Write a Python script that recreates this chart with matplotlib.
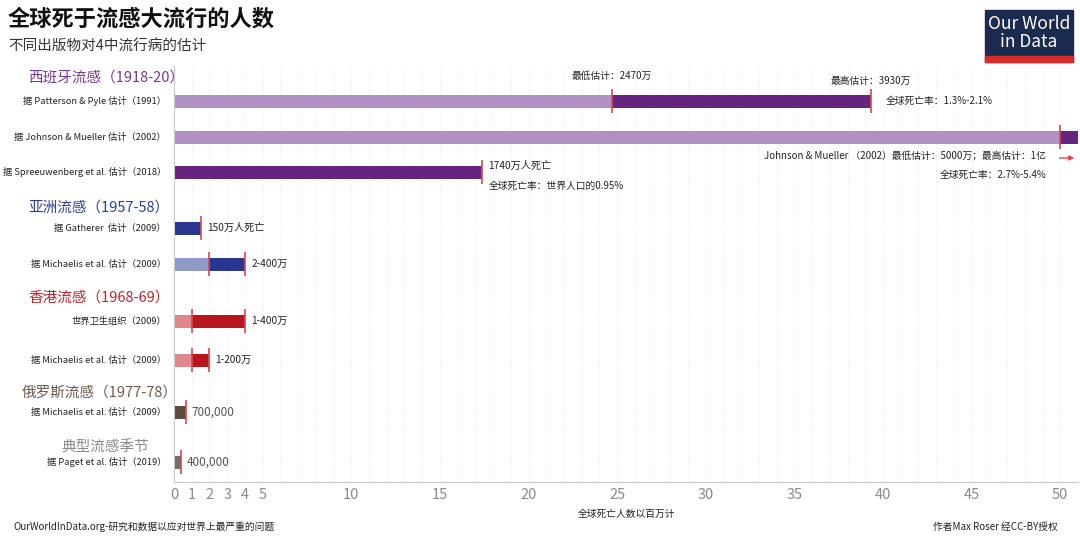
import numpy as np
import matplotlib
matplotlib.use("Agg")
import matplotlib.pyplot as plt
from matplotlib.patches import Rectangle

plt.rcParams["font.family"] = ["Noto Sans CJK SC", "DejaVu Sans"]

# pandemics (group headers)
GROUPS = ["西班牙流感（1918-20）", "亚洲流感（1957-58）", "香港流感（1968-69）",
          "俄罗斯流感（1977-78）", "典型流感季节"]

# one row per estimate
SOURCES = ["据 Patterson & Pyle 估计（1991）",
           "据 Johnson & Mueller 估计（2002）",
           "据 Spreeuwenberg et al. 估计（2018）",
           "据 Gatherer  估计（2009）",
           "据 Michaelis et al. 估计（2009）",
           "世界卫生组织（2009）",
           "据 Michaelis et al. 估计（2009）",
           "据 Michaelis et al. 估计（2009）",
           "据 Paget et al. 估计（2019）"]
SOURCE_GROUP = [0, 0, 0, 1, 1, 2, 2, 3, 4]
# deaths in millions: low / high estimate (same value = single estimate)
LOW = [24.7, 50.0, 17.4, 1.5, 2.0, 1.0, 1.0, 0.7, 0.4]
HIGH = [39.3, 100.0, 17.4, 1.5, 4.0, 4.0, 2.0, 0.7, 0.4]
VALUE_LABELS = [None, None, "1740万人死亡", "150万人死亡", "2-400万", "1-400万",
                "1-200万", "700,000", "400,000"]

XTICKS = [0, 1, 2, 3, 4, 5, 10, 15, 20, 25, 30, 35, 40, 45, 50]

# colours per group: (dark, light, header text)
DARK = ["#66237f", "#27368f", "#b8161f", "#5e4a3e", "#6e6e6e"]
LIGHT = ["#b190c3", "#8e9ac8", "#e0878d", "#5e4a3e", "#6e6e6e"]
HEAD = ["#7a3596", "#2e3d96", "#c8202b", "#6e5a4e", "#8a8a8a"]
TICKRED = "#e2434c"

# layout (pixel rows, the y axis is set so 1 unit = 1 pixel)
row_y = [101, 137, 172, 228, 264, 321, 360, 412, 462]
label_dy = [0, 0, -6, 0, 0, 0, 0, 0, 0]
head_y = [78, 208, 298, 393, 447]
head_x = [28, 28, 28, 22, 105]
head_ha = ["left", "left", "left", "left", "center"]

W, H = 1080, 537
fig = plt.figure(figsize=(W / 100, H / 100), dpi=100)
ax = fig.add_axes([174 / W, 1 - 482 / H, (1078 - 174) / W, (482 - 66) / H])
ax.set_xlim(0, 51)
ax.set_ylim(482, 66)

bh = 13
for i in range(len(SOURCES)):
    g = SOURCE_GROUP[i]
    y = row_y[i]
    lo, hi = LOW[i], HIGH[i]
    if hi > lo:
        ax.barh(y, lo, height=bh, color=LIGHT[g], zorder=2)
        ax.barh(y, hi - lo, left=lo, height=bh, color=DARK[g], zorder=2)
        marks = [lo, hi]
    else:
        ax.barh(y, hi, height=bh, color=DARK[g], zorder=2)
        marks = [hi]
    ax.vlines(marks, y - 12, y + 12, color=TICKRED, lw=1.2, zorder=3)
    ax.text(-0.45, y, SOURCES[i], ha="right", va="center", fontsize=6.7, color="#222222")
    if VALUE_LABELS[i]:
        gray = i >= 7
        ax.text(hi + (0.35 if hi > 1 else 0.3), y + label_dy[i], VALUE_LABELS[i],
                ha="left", va="center",
                fontsize=8.5 if gray else 7.3, color="#555555" if gray else "#222222")

for g in range(len(GROUPS)):
    fig.text(head_x[g] / W, 1 - head_y[g] / H, GROUPS[g], ha=head_ha[g], va="center",
             fontsize=10.5, color=HEAD[g])

# Spanish flu annotations
ax.text(LOW[0], 76, "最低估计：2470万", ha="center", va="center", fontsize=7, color="#222222")
ax.text(HIGH[0], 81, "最高估计：3930万", ha="center", va="center", fontsize=7, color="#222222")
ax.text(HIGH[0] + 0.85, 101, "全球死亡率：1.3%-2.1%", ha="left", va="center", fontsize=7, color="#222222")
ax.text(LOW[2] + 0.35, 186, "全球死亡率：世界人口的0.95%", ha="left", va="center", fontsize=7, color="#222222")
ax.text(49.2, 156, "Johnson & Mueller （2002）最低估计：5000万；最高估计：1亿",
        ha="right", va="center", fontsize=7, color="#222222")
ax.text(49.2, 175, "全球死亡率：2.7%-5.4%", ha="right", va="center", fontsize=7, color="#222222")
ax.annotate("", xy=(50.95, 158), xytext=(49.8, 158),
            arrowprops=dict(arrowstyle="-|>", color=TICKRED, lw=1, mutation_scale=7),
            annotation_clip=False)

# axes styling
for x in range(0, 52):
    ax.axvline(x, color="#e4e4e4", lw=0.7, ls=(0, (1, 3)), zorder=0)
for s in ["top", "right"]:
    ax.spines[s].set_visible(False)
ax.spines["left"].set_color("#c8c8c8")
ax.spines["bottom"].set_color("#c8c8c8")
ax.set_yticks([])
ax.set_xticks(XTICKS)
ax.set_xticklabels([str(t) for t in XTICKS])
ax.tick_params(axis="x", length=0, labelsize=10.5, labelcolor="#8a8a8a", pad=4)
ax.set_xlabel("全球死亡人数以百万计", fontsize=7, color="#222222", labelpad=5)

# titles and footer
fig.text(8 / W, 1 - 19 / H, "全球死于流感大流行的人数", fontsize=16, fontweight="bold",
         ha="left", va="center", color="#111111")
fig.text(8 / W, 1 - 47 / H, "不同出版物对4中流行病的估计", fontsize=10.5,
         ha="left", va="center", color="#333333")
fig.text(13 / W, 1 - 527 / H, "OurWorldInData.org-研究和数据以应对世界上最严重的问题",
         fontsize=7, ha="left", va="center", color="#222222")
fig.text(1058 / W, 1 - 527 / H, "作者Max Roser 经CC-BY授权",
         fontsize=7, ha="right", va="center", color="#222222")

# logo
fig.patches.append(Rectangle((985 / W, 1 - 62 / H), 88 / W, 52 / H, transform=fig.transFigure,
                             color="#1a2b4f", zorder=5))
fig.patches.append(Rectangle((985 / W, 1 - 62 / H), 88 / W, 6 / H, transform=fig.transFigure,
                             color="#d42a2a", zorder=6))
fig.text(1029 / W, 1 - 33 / H, "Our World\nin Data", ha="center", va="center",
         fontsize=12.5, color="white", linespacing=1.0, zorder=7)

fig.savefig("out.png", dpi=100)
